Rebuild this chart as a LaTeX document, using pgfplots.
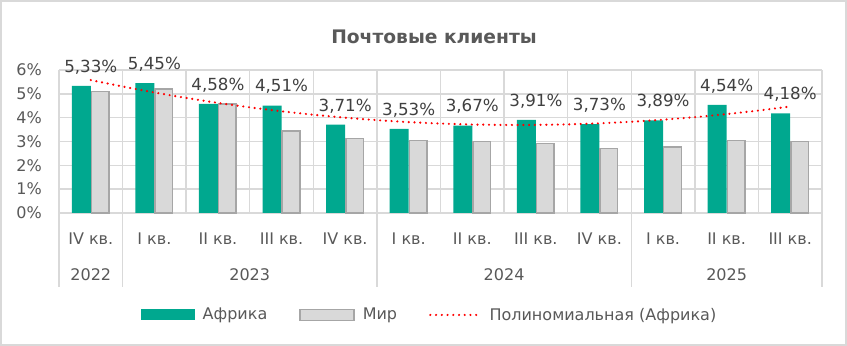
\documentclass[border=0pt]{standalone}
\usepackage{pgfplots}
\pgfplotsset{compat=1.18}
\usepackage{fontspec}
\setmainfont{DejaVu Sans}
\definecolor{afr}{HTML}{00A88F}
\definecolor{wfill}{HTML}{D9D9D9}
\definecolor{wline}{HTML}{A6A6A6}
\definecolor{gridc}{HTML}{D9D9D9}
\definecolor{txt}{HTML}{595959}
\definecolor{lbl}{HTML}{404040}
\begin{document}
\begin{tikzpicture}
\fill[white] (0,0) rectangle (635.25pt,259.5pt);
\draw[gridc, line width=1.2pt] (0.6pt,0.6pt) rectangle (634.65pt,258.9pt);
\node[font=\fontsize{14}{16}\selectfont\bfseries, text=txt] at (325.5pt,231.75pt) {Почтовые клиенты};
\begin{axis}[
  at={(44.25pt,99.75pt)}, anchor=south west,
  scale only axis, width=572.25pt, height=107.25pt,
  xmin=-0.5, xmax=11.5, ymin=0, ymax=6,
  ytick={0,1,2,3,4,5,6},
  yticklabel={\pgfmathprintnumber{\tick}\%},
  xtick={0,1,2,3,4,5,6,7,8,9,10,11},
  xticklabels={IV кв., I кв., II кв., III кв., IV кв., I кв., II кв., III кв., IV кв., I кв., II кв., III кв.},
  minor xtick={-0.5,0.5,1.5,2.5,3.5,4.5,5.5,6.5,7.5,8.5,9.5,10.5,11.5},
  xminorgrids, ymajorgrids,
  grid style={gridc, line width=1.1pt},
  minor grid style={gridc, line width=1.1pt},
  axis line style={draw=none},
  major tick length=0pt, minor tick length=0pt,
  tick style={draw=none},
  /pgf/number format/assume math mode=true,
  ticklabel style={font=\fontsize{12}{14}\selectfont, text=txt},
  yticklabel style={anchor=east, inner sep=0pt, xshift=-12.75pt},
  xticklabel style={anchor=base, inner sep=0pt, yshift=-24pt},
  clip=false,
  legend style={at={(0.486,-0.713)}, anchor=center, draw=none, fill=none,
    legend columns=3, font=\fontsize{12}{14}\selectfont, text=txt,
    /tikz/every odd column/.append style={column sep=4pt},
    /tikz/every even column/.append style={column sep=22pt}},
  legend cell align=left,
]
\addplot[ybar, bar width=14.25pt, bar shift=-7.1pt, fill=afr, draw=none,
  point meta=y,
  nodes near coords={\pgfmathprintnumber[fixed,fixed zerofill,precision=2,use comma]{\pgfplotspointmeta}\%},
  every node near coord/.append style={font=\fontsize{12.5}{14}\selectfont, text=lbl, anchor=south, inner sep=0pt, yshift=8.5pt},
  legend image code/.code={\fill[afr] (0pt,-4.1pt) rectangle (40.5pt,4.1pt);}]
  coordinates {(0,5.33) (1,5.45) (2,4.58) (3,4.51) (4,3.71) (5,3.53) (6,3.67) (7,3.91) (8,3.73) (9,3.89) (10,4.54) (11,4.18)};
\addlegendentry{Африка}
\addplot[ybar, bar width=13.2pt, bar shift=7.1pt, fill=wfill, draw=wline, line width=1.1pt,
  legend image code/.code={\draw[fill=wfill, draw=wline, line width=1.1pt] (0pt,-4.1pt) rectangle (40.5pt,4.1pt);}]
  coordinates {(0,5.10) (1,5.21) (2,4.57) (3,3.45) (4,3.12) (5,3.04) (6,3.00) (7,2.91) (8,2.70) (9,2.77) (10,3.04) (11,3.00)};
\addlegendentry{Мир}
\addplot[red, line width=1.8pt, line cap=round, dash pattern=on 0pt off 4.3pt, mark=none,
  legend image code/.code={\draw[red, line width=1.8pt, line cap=round, dash pattern=on 0pt off 4.3pt] (0pt,0pt) -- (37.5pt,0pt);}]
  coordinates {(0,5.577) (0.5,5.306) (1,5.056) (1.5,4.827) (2,4.619) (2.5,4.432) (3,4.267) (3.5,4.122) (4,3.998) (4.5,3.895) (5,3.813) (5.5,3.752) (6,3.712) (6.5,3.693) (7,3.695) (7.5,3.718) (8,3.762) (8.5,3.828) (9,3.914) (9.5,4.021) (10,4.149) (10.5,4.298) (11,4.468)};
\addlegendentry{Полиномиальная (Африка)}
\draw[gridc, line width=1.1pt] (axis cs:-0.5,0) -- ++(0pt,-55.5pt);
\draw[gridc, line width=1.1pt] (axis cs:0.5,0) -- ++(0pt,-55.5pt);
\draw[gridc, line width=1.1pt] (axis cs:4.5,0) -- ++(0pt,-55.5pt);
\draw[gridc, line width=1.1pt] (axis cs:8.5,0) -- ++(0pt,-55.5pt);
\draw[gridc, line width=1.1pt] (axis cs:11.5,0) -- ++(0pt,-55.5pt);
\node[anchor=base, font=\fontsize{12}{14}\selectfont, text=txt, yshift=-51pt] at (axis cs:0,0) {2022};
\node[anchor=base, font=\fontsize{12}{14}\selectfont, text=txt, yshift=-51pt] at (axis cs:2.5,0) {2023};
\node[anchor=base, font=\fontsize{12}{14}\selectfont, text=txt, yshift=-51pt] at (axis cs:6.5,0) {2024};
\node[anchor=base, font=\fontsize{12}{14}\selectfont, text=txt, yshift=-51pt] at (axis cs:10,0) {2025};
\end{axis}
\end{tikzpicture}
\end{document}
